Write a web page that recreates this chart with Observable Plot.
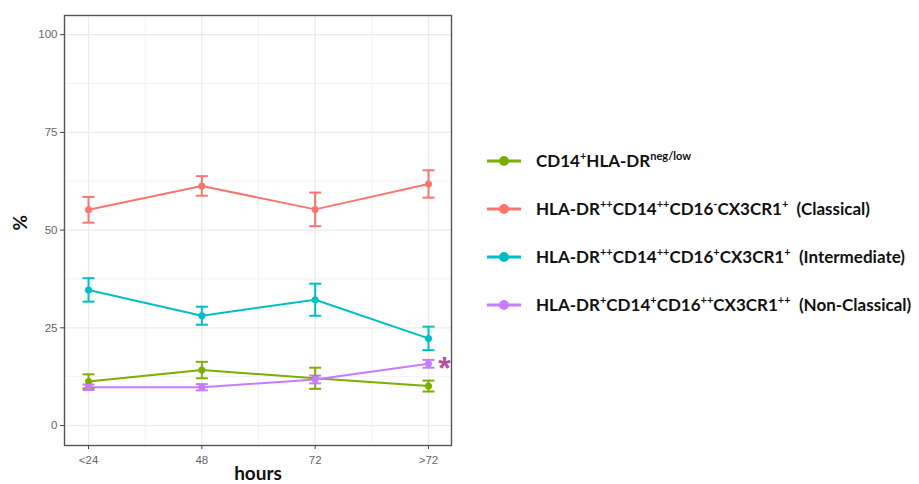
<!DOCTYPE html>
<html><head><meta charset="utf-8">
<script src="https://cdn.jsdelivr.net/npm/d3@7"></script>
<script src="https://cdn.jsdelivr.net/npm/@observablehq/plot@0.6"></script>
<style>
body{margin:0;background:#fff;}
#wrap{position:relative;width:919px;height:484px;}
#legend{position:absolute;left:486px;top:150px;font-family:Lato,"Open Sans",sans-serif;font-weight:bold;font-size:17px;color:#111;}
.row{height:48px;display:flex;align-items:flex-start;white-space:nowrap;}
.row svg{margin-right:14px;margin-top:4px;}
sup{font-size:11px;vertical-align:7px;line-height:0;}
</style></head>
<body><div id="wrap"><div id="legend"></div></div>
<script>
const hours = ["<24", "48", "72", ">72"];
const seriesNames = ["CD14+HLA-DR neg/low", "Classical", "Intermediate", "Non-Classical"];
const seriesColors = ["#7CAE00", "#F8766D", "#00BFC4", "#C77CFF"];
const greenMean = [11.3, 14.2, 12.1, 10.1];
const greenErr = [1.8, 2.1, 2.7, 1.4];
const redMean = [55.2, 61.3, 55.3, 61.8];
const redErr = [3.3, 2.5, 4.3, 3.5];
const cyanMean = [34.7, 28.1, 32.2, 22.3];
const cyanErr = [3.0, 2.3, 4.1, 3.0];
const purpleMean = [9.8, 9.8, 11.8, 15.8];
const purpleErr = [0.7, 0.8, 1.0, 1.0];
const yTicks = [0, 25, 50, 75, 100];
const yMinor = [12.5, 37.5, 62.5, 87.5];
const annotation = [{hour: ">72", value: 15.8, text: "*"}];

const legendHTML = [
  "CD14<sup>+</sup>HLA-DR<sup>neg/low</sup>",
  "HLA-DR<sup>++</sup>CD14<sup>++</sup>CD16<sup>-</sup>CX3CR1<sup>+</sup>&nbsp; (Classical)",
  "HLA-DR<sup>++</sup>CD14<sup>++</sup>CD16<sup>+</sup>CX3CR1<sup>+</sup>&nbsp; (Intermediate)",
  "HLA-DR<sup>+</sup>CD14<sup>+</sup>CD16<sup>++</sup>CX3CR1<sup>++</sup>&nbsp; (Non-Classical)"
];

const means = [greenMean, redMean, cyanMean, purpleMean];
const errs = [greenErr, redErr, cyanErr, purpleErr];
const data = [];
seriesNames.forEach((s, si) => hours.forEach((h, hi) => data.push({
  series: s, x: hi + 1, value: means[si][hi], lo: means[si][hi] - errs[si][hi], hi: means[si][hi] + errs[si][hi]
})));
const xMajor = hours.map((h, i) => i + 1);
const xMinor = xMajor.slice(1).map(v => v - 0.5);
const ann = annotation.map(a => ({x: hours.indexOf(a.hour) + 1, value: a.value, text: a.text}));

const capSymbol = {draw(ctx) { ctx.moveTo(-6, 0); ctx.lineTo(6, 0); }};

const color = {domain: seriesNames, range: seriesColors};
const chart = Plot.plot({
  width: 470, height: 484,
  marginLeft: 64, marginRight: 19, marginTop: 15, marginBottom: 39,
  style: {fontFamily: "Liberation Sans, Arial, sans-serif", background: "#fff"},
  x: {type: "linear", domain: [0.788, 4.203], label: null},
  y: {domain: [-5.1, 104.9], label: null},
  color,
  marks: [
    Plot.ruleY(yMinor, {stroke: "#F2F2F2", strokeWidth: 1}),
    Plot.ruleX(xMinor, {stroke: "#F2F2F2", strokeWidth: 1}),
    Plot.ruleY(yTicks, {stroke: "#EBEBEB", strokeWidth: 1.3}),
    Plot.ruleX(xMajor, {stroke: "#EBEBEB", strokeWidth: 1.3}),
    Plot.axisY({ticks: yTicks, tickSize: 4, tickPadding: 3, fontSize: 11.5, color: "#666", stroke: "#444", label: null}),
    Plot.axisX({ticks: xMajor, tickFormat: d => hours[d - 1], tickSize: 4, tickPadding: 6, fontSize: 11.5, color: "#666", stroke: "#444", label: null}),
    Plot.line(data, {x: "x", y: "value", z: "series", stroke: "series", strokeWidth: 2}),
    Plot.ruleX(data, {x: "x", y1: "lo", y2: "hi", stroke: "series", strokeWidth: 2}),
    Plot.dot(data, {x: "x", y: "lo", symbol: capSymbol, stroke: "series", strokeWidth: 2, fill: "none"}),
    Plot.dot(data, {x: "x", y: "hi", symbol: capSymbol, stroke: "series", strokeWidth: 2, fill: "none"}),
    Plot.dot(data, {x: "x", y: "value", fill: "series", r: 3.5}),
    Plot.text(ann, {x: "x", y: "value", text: "text", dx: 16, dy: 5, fill: "#B5509A", fontSize: 32, fontWeight: "bold", fontFamily: "Liberation Sans, sans-serif"}),
    Plot.frame({stroke: "#555", strokeWidth: 1.4}),
    Plot.text(["%"], {frameAnchor: "left", dx: -44, rotate: -90, fontSize: 19, fontWeight: "bold", fill: "#111", fontFamily: "Lato, sans-serif"}),
    Plot.text(["hours"], {frameAnchor: "bottom", dy: 34, fontSize: 19, fontWeight: "bold", fill: "#111", fontFamily: "Lato, sans-serif"})
  ]
});
document.getElementById("wrap").prepend(chart);
const leg = document.getElementById("legend");
legendHTML.forEach((h, i) => {
  const row = document.createElement("div");
  row.className = "row";
  row.innerHTML = `<svg width="36" height="14"><line x1="1" x2="35" y1="7" y2="7" stroke="${seriesColors[i]}" stroke-width="3"/><circle cx="18" cy="7" r="5" fill="${seriesColors[i]}"/></svg><span>${h}</span>`;
  leg.appendChild(row);
});
</script></body></html>
